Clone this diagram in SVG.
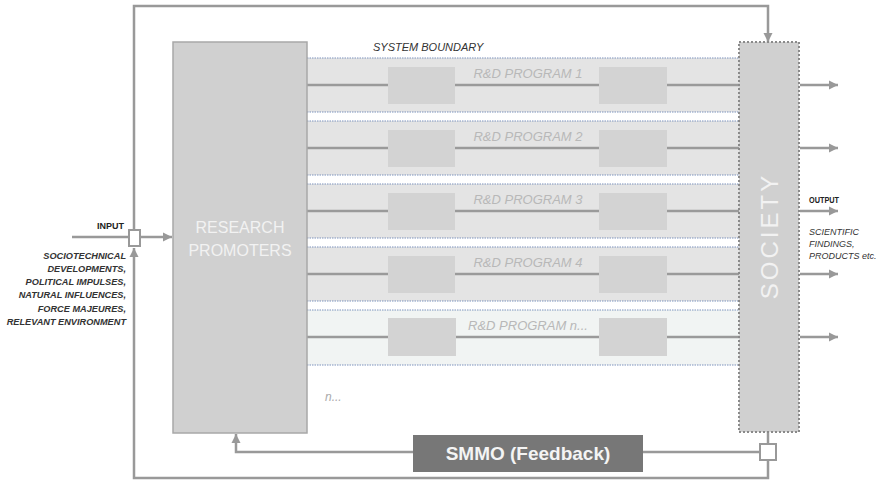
<svg xmlns="http://www.w3.org/2000/svg" width="879" height="480" viewBox="0 0 879 480">
<defs>
<marker id="ah" markerUnits="userSpaceOnUse" markerWidth="10" markerHeight="10" refX="9" refY="5" orient="auto">
<path d="M0,0.5 L9,5 L0,9.5 z" fill="#999"/>
</marker>
<style>
.conn{fill:none;stroke:#999;stroke-width:2.5}
.band{fill:#e4e4e4}
.bandn{fill:#f1f4f3}
.bline{stroke:#7d93bd;stroke-width:1;stroke-dasharray:1.5,1}
.pline{stroke:#9a9a9a;stroke-width:2.5}
.pbox{fill:#d3d3d3}
.plabel{font-family:"Liberation Sans",Arial,sans-serif;font-style:italic;font-size:13px;fill:#b8b8b8;text-anchor:middle}
.small{font-family:"Liberation Sans",Arial,sans-serif;font-style:italic;font-weight:bold;font-size:9.2px;fill:#333;text-anchor:end}
.out{font-family:"Liberation Sans",Arial,sans-serif;font-style:italic;font-size:9px;fill:#333}
.bold{font-family:"Liberation Sans",Arial,sans-serif;font-weight:bold;font-size:9px;fill:#222}
</style>
</defs>
<rect width="879" height="480" fill="#fff"/>

<g id="programs">
<g id="program1">
<rect class="band" x="307" y="58" width="432" height="54"/>
<line class="bline" x1="307" y1="58" x2="739" y2="58"/>
<line class="bline" x1="307" y1="112" x2="739" y2="112"/>
<line class="pline" x1="307" y1="85" x2="739" y2="85"/>
<rect class="pbox" x="388" y="67" width="67" height="37"/>
<rect class="pbox" x="599" y="67" width="68" height="37"/>
<text class="plabel" x="528" y="78">R&amp;D PROGRAM 1</text>
</g>
<g id="program2">
<rect class="band" x="307" y="121" width="432" height="54"/>
<line class="bline" x1="307" y1="121" x2="739" y2="121"/>
<line class="bline" x1="307" y1="175" x2="739" y2="175"/>
<line class="pline" x1="307" y1="148" x2="739" y2="148"/>
<rect class="pbox" x="388" y="130" width="67" height="37"/>
<rect class="pbox" x="599" y="130" width="68" height="37"/>
<text class="plabel" x="528" y="141">R&amp;D PROGRAM 2</text>
</g>
<g id="program3">
<rect class="band" x="307" y="184" width="432" height="54"/>
<line class="bline" x1="307" y1="184" x2="739" y2="184"/>
<line class="bline" x1="307" y1="238" x2="739" y2="238"/>
<line class="pline" x1="307" y1="211" x2="739" y2="211"/>
<rect class="pbox" x="388" y="193" width="67" height="37"/>
<rect class="pbox" x="599" y="193" width="68" height="37"/>
<text class="plabel" x="528" y="204">R&amp;D PROGRAM 3</text>
</g>
<g id="program4">
<rect class="band" x="307" y="247" width="432" height="54"/>
<line class="bline" x1="307" y1="247" x2="739" y2="247"/>
<line class="bline" x1="307" y1="301" x2="739" y2="301"/>
<line class="pline" x1="307" y1="274" x2="739" y2="274"/>
<rect class="pbox" x="388" y="256" width="67" height="37"/>
<rect class="pbox" x="599" y="256" width="68" height="37"/>
<text class="plabel" x="528" y="267">R&amp;D PROGRAM 4</text>
</g>
<g id="programn">
<rect class="bandn" x="307" y="310" width="432" height="55"/>
<line class="bline" x1="307" y1="310" x2="739" y2="310"/>
<line class="bline" x1="307" y1="365" x2="739" y2="365"/>
<line class="pline" x1="307" y1="337" x2="739" y2="337"/>
<rect class="pbox" x="388" y="318" width="68" height="38"/>
<rect class="pbox" x="599" y="318" width="68" height="38"/>
<text class="plabel" x="528" y="330">R&amp;D PROGRAM n...</text>
</g>
<text x="325" y="401" font-family="Liberation Sans, Arial, sans-serif" font-style="italic" font-size="12" fill="#aaa">n...</text>
</g>

<g id="connectors">
<path class="conn" d="M768,460 V478 H134 V248" marker-end="url(#ah)"/>
<path class="conn" d="M134,230 V6 H768 V42" marker-end="url(#ah)"/>
<path class="conn" d="M768,432 V444"/>
<path class="conn" d="M760,452 H643"/>
<path class="conn" d="M413,452 H236 V434" marker-end="url(#ah)"/>
<path class="conn" d="M72,237 H129"/>
<path class="conn" d="M140,237 H172" marker-end="url(#ah)"/>
<path class="conn" d="M800,85 H838" marker-end="url(#ah)"/>
<path class="conn" d="M800,148 H838" marker-end="url(#ah)"/>
<path class="conn" d="M800,211 H838" marker-end="url(#ah)"/>
<path class="conn" d="M800,274 H838" marker-end="url(#ah)"/>
<path class="conn" d="M800,337 H838" marker-end="url(#ah)"/>
</g>

<g id="research-promoters">
<rect x="173" y="42" width="134" height="391" fill="#d0d0d0" stroke="#a8a8a8" stroke-width="1.5"/>
<text x="240" y="233" font-family="Liberation Sans, Arial, sans-serif" font-size="16" fill="#f2f2f2" text-anchor="middle">RESEARCH</text>
<text x="240" y="256" font-family="Liberation Sans, Arial, sans-serif" font-size="16" fill="#f2f2f2" text-anchor="middle">PROMOTERS</text>
</g>

<g id="society">
<rect x="739" y="42" width="60" height="390" fill="#d0d0d0" stroke="#8a8a8a" stroke-width="2" stroke-dasharray="2,2"/>
<text transform="translate(778,236) rotate(-90)" font-family="Liberation Sans, Arial, sans-serif" font-size="24" letter-spacing="3" fill="#f2f2f2" text-anchor="middle">SOCIETY</text>
</g>

<g id="smmo">
<rect x="413" y="435" width="230" height="37" fill="#777"/>
<text x="528" y="460" font-family="Liberation Sans, Arial, sans-serif" font-weight="bold" font-size="19" fill="#f4f4f4" text-anchor="middle">SMMO (Feedback)</text>
</g>

<g id="input-junction">
<rect x="129" y="230" width="11" height="16" fill="#fff" stroke="#999" stroke-width="2"/>
</g>
<g id="feedback-junction">
<rect x="760" y="444" width="16" height="16" fill="#fff" stroke="#999" stroke-width="2"/>
</g>

<g id="labels">
<text x="373" y="51" font-family="Liberation Sans, Arial, sans-serif" font-style="italic" font-size="11" fill="#333">SYSTEM BOUNDARY</text>
<text class="bold" x="124" y="229" text-anchor="end">INPUT</text>
<text class="small" x="126" y="258.5">SOCIOTECHNICAL</text>
<text class="small" x="126" y="271.8">DEVELOPMENTS,</text>
<text class="small" x="126" y="285.1">POLITICAL IMPULSES,</text>
<text class="small" x="126" y="298.4">NATURAL INFLUENCES,</text>
<text class="small" x="126" y="311.7">FORCE MAJEURES,</text>
<text class="small" x="126" y="325">RELEVANT ENVIRONMENT</text>
<text class="bold" x="809" y="203" textLength="30" lengthAdjust="spacingAndGlyphs">OUTPUT</text>
<text class="out" x="809" y="235">SCIENTIFIC</text>
<text class="out" x="809" y="247">FINDINGS,</text>
<text class="out" x="809" y="259">PRODUCTS etc.</text>
</g>
</svg>
